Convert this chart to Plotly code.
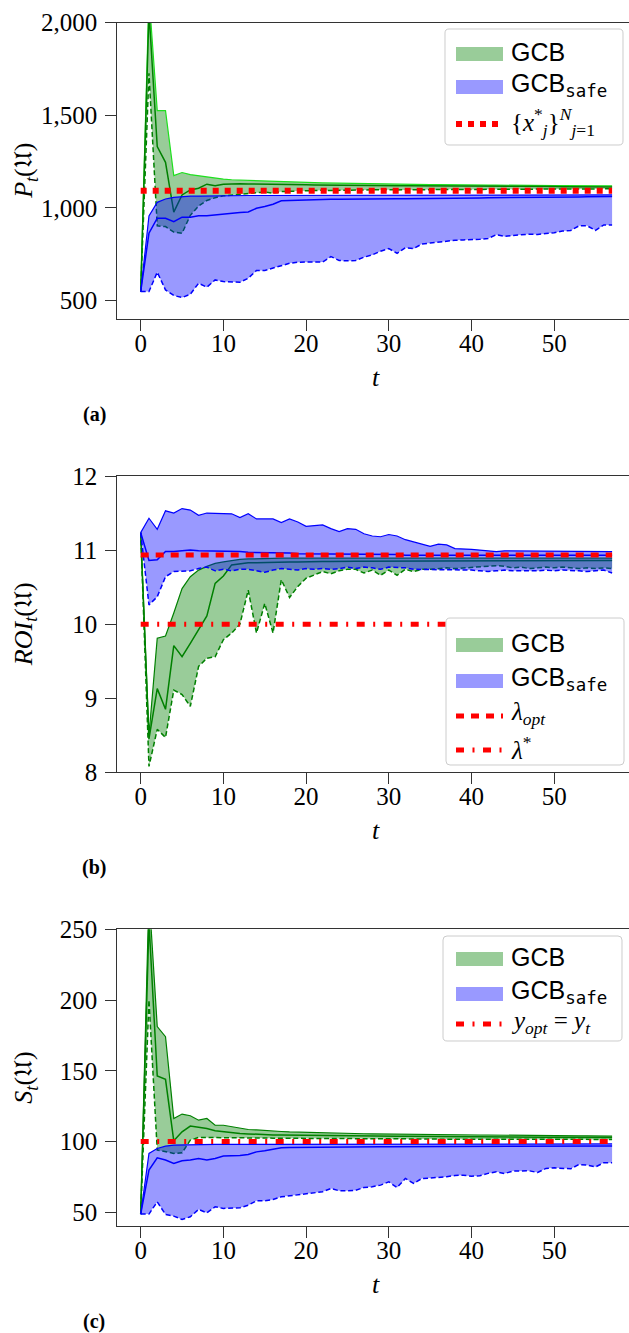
import plotly.graph_objects as go

W, H = 629, 1333

# ---------------- data ----------------
t = list(range(58))

# Panel (a): P_t
a_gcb_mean = [548, 2060, 1331, 1246, 977, 1070, 1097, 1106, 1128, 1120,
              1128, 1130, 1130, 1129, 1129, 1128, 1127, 1126, 1126, 1125,
              1125, 1124, 1124, 1123, 1123, 1122, 1122, 1121, 1121, 1120,
              1120, 1120, 1119, 1119, 1119, 1118, 1118, 1118, 1117, 1117,
              1117, 1117, 1116, 1116, 1116, 1116, 1115, 1115, 1115, 1115,
              1115, 1114, 1114, 1114, 1114, 1114, 1113, 1113]
a_gcb_lower = [548, 1727, 903, 899, 869, 863, 960, 1010, 1040, 1055,
               1065, 1070, 1074, 1078, 1082, 1085, 1080, 1088, 1090, 1092,
               1093, 1094, 1095, 1094, 1096, 1095, 1096, 1097, 1096, 1097,
               1098, 1097, 1098, 1098, 1099, 1098, 1099, 1099, 1100, 1099,
               1100, 1100, 1100, 1101, 1100, 1101, 1101, 1101, 1102, 1101,
               1102, 1102, 1102, 1103, 1102, 1103, 1103, 1103]
a_gcb_upper = [548, 2150, 1525, 1525, 1174, 1191, 1180, 1173, 1166, 1158,
               1155, 1152, 1150, 1148, 1146, 1144, 1142, 1140, 1139, 1138,
               1137, 1136, 1135, 1134, 1134, 1133, 1132, 1132, 1131, 1130,
               1129, 1129, 1128, 1128, 1127, 1126, 1126, 1125, 1125, 1124,
               1124, 1123, 1123, 1123, 1122, 1122, 1122, 1121, 1121, 1121,
               1120, 1120, 1120, 1120, 1119, 1119, 1119, 1119]
a_safe_mean = [548, 863, 944, 944, 926, 950, 950, 957, 957, 962,
               968, 971, 975, 978, 998, 1007, 1020, 1038, 1040, 1041,
               1043, 1044, 1045, 1046, 1046, 1047, 1047, 1048, 1048, 1049,
               1049, 1050, 1050, 1050, 1051, 1051, 1052, 1052, 1053, 1053,
               1054, 1054, 1055, 1055, 1055, 1056, 1056, 1057, 1057, 1057,
               1058, 1058, 1059, 1059, 1060, 1060, 1060, 1061]
a_safe_lower = [548, 548, 653, 557, 527, 516, 534, 593, 572, 611,
                602, 599, 599, 620, 662, 662, 674, 689, 701, 707,
                708, 708, 708, 737, 716, 714, 716, 734, 746, 766,
                780, 755, 785, 780, 805, 810, 815, 822, 825, 827,
                827, 830, 835, 855, 846, 852, 855, 858, 856, 862,
                866, 875, 878, 903, 903, 878, 908, 908]
a_safe_upper = [548, 957, 1030, 1048, 1057, 1061, 1063, 1064, 1065, 1066,
                1066, 1066, 1067, 1067, 1067, 1067, 1068, 1068, 1068, 1068,
                1068, 1068, 1068, 1069, 1069, 1069, 1069, 1069, 1069, 1069,
                1069, 1069, 1069, 1069, 1069, 1070, 1070, 1070, 1070, 1070,
                1070, 1070, 1070, 1070, 1070, 1070, 1070, 1070, 1070, 1070,
                1070, 1070, 1070, 1070, 1070, 1070, 1070, 1070]
a_opt = 1092

# Panel (b): ROI_t
b_gcb_mean = [11.235, 8.45, 9.13, 8.85, 9.71, 9.56, 9.74, 9.93, 10.11, 10.55,
              10.65, 10.80, 10.82, 10.83, 10.83, 10.835, 10.84, 10.84, 10.84, 10.84,
              10.845, 10.845, 10.845, 10.845, 10.85, 10.85, 10.85, 10.85, 10.85, 10.85,
              10.85, 10.85, 10.855, 10.855, 10.855, 10.855, 10.855, 10.855, 10.855, 10.855,
              10.86, 10.86, 10.86, 10.86, 10.86, 10.86, 10.86, 10.86, 10.86, 10.86,
              10.86, 10.86, 10.86, 10.86, 10.86, 10.86, 10.86, 10.86]
b_gcb_lower = [11.235, 8.08, 8.58, 8.47, 9.11, 9.05, 8.89, 9.43, 9.54, 9.56,
               9.79, 9.88, 10.00, 10.46, 9.88, 10.28, 9.88, 10.60, 10.36, 10.51,
               10.62, 10.66, 10.71, 10.68, 10.72, 10.74, 10.74, 10.69, 10.73, 10.66,
               10.73, 10.66, 10.74, 10.71, 10.74, 10.74, 10.75, 10.76, 10.75, 10.76,
               10.77, 10.77, 10.78, 10.79, 10.78, 10.76, 10.77, 10.75, 10.76, 10.77,
               10.76, 10.77, 10.76, 10.75, 10.76, 10.75, 10.76, 10.75]
b_gcb_upper = [11.235, 8.50, 9.81, 9.84, 10.15, 10.48, 10.64, 10.73, 10.78, 10.82,
               10.84, 10.86, 10.875, 10.88, 10.885, 10.89, 10.89, 10.89, 10.89, 10.89,
               10.89, 10.89, 10.89, 10.89, 10.89, 10.89, 10.89, 10.89, 10.89, 10.89,
               10.89, 10.89, 10.89, 10.89, 10.89, 10.89, 10.89, 10.89, 10.89, 10.89,
               10.89, 10.89, 10.89, 10.89, 10.89, 10.89, 10.89, 10.89, 10.89, 10.89,
               10.89, 10.89, 10.89, 10.89, 10.89, 10.89, 10.89, 10.89]
b_safe_mean = [11.235, 10.86, 10.87, 10.98, 10.98, 10.99, 11.00, 10.99, 10.99, 10.98,
               10.98, 10.98, 10.98, 10.97, 10.97, 10.97, 10.96, 10.96, 10.96, 10.95,
               10.95, 10.95, 10.95, 10.94, 10.94, 10.94, 10.94, 10.94, 10.94, 10.94,
               10.94, 10.94, 10.93, 10.93, 10.93, 10.93, 10.93, 10.93, 10.93, 10.93,
               10.93, 10.93, 10.93, 10.93, 10.93, 10.93, 10.93, 10.93, 10.93, 10.93,
               10.93, 10.93, 10.93, 10.93, 10.93, 10.93, 10.93, 10.93]
b_safe_lower = [11.235, 10.26, 10.37, 10.64, 10.71, 10.71, 10.72, 10.75, 10.77, 10.72,
                10.74, 10.72, 10.74, 10.74, 10.72, 10.70, 10.73, 10.75, 10.74, 10.73,
                10.75, 10.74, 10.75, 10.74, 10.75, 10.77, 10.75, 10.77, 10.76, 10.74,
                10.77, 10.77, 10.76, 10.74, 10.74, 10.73, 10.73, 10.74, 10.73, 10.73,
                10.73, 10.72, 10.71, 10.72, 10.73, 10.72, 10.72, 10.71, 10.72, 10.73,
                10.72, 10.73, 10.73, 10.72, 10.71, 10.72, 10.73, 10.69]
b_safe_upper = [11.235, 11.43, 11.28, 11.53, 11.50, 11.56, 11.54, 11.47, 11.50, 11.50,
                11.50, 11.49, 11.44, 11.49, 11.42, 11.42, 11.42, 11.37, 11.42, 11.38,
                11.32, 11.33, 11.34, 11.29, 11.25, 11.29, 11.28, 11.22, 11.19, 11.18,
                11.21, 11.19, 11.14, 11.11, 11.08, 11.05, 11.08, 11.07, 11.02, 11.02,
                11.01, 11.00, 10.99, 10.98, 10.99, 10.99, 10.99, 10.98, 10.98, 10.98,
                10.98, 10.98, 10.98, 10.98, 10.98, 10.98, 10.98, 10.98]
b_opt = 10.935
b_star = 10.0

# Panel (c): S_t
c_gcb_mean = [48.7, 255, 146.3, 144.0, 100.5, 106.9, 110.9, 110.0, 109.2, 107.6,
              106.9, 106.2, 105.7, 105.4, 105.0, 104.8, 104.7, 104.6, 104.5, 104.4,
              104.3, 104.2, 104.2, 104.1, 104.1, 104.0, 104.0, 103.9, 103.9, 103.8,
              103.8, 103.7, 103.7, 103.6, 103.6, 103.6, 103.5, 103.5, 103.5, 103.4,
              103.4, 103.4, 103.3, 103.3, 103.3, 103.2, 103.2, 103.2, 103.1, 103.1,
              103.1, 103.0, 103.0, 103.0, 103.0, 102.9, 102.9, 102.9]
c_gcb_lower = [48.7, 200, 94.0, 92.7, 91.6, 92.0, 101.0, 102.9, 102.9, 102.8,
               102.7, 102.6, 102.6, 102.5, 102.5, 102.4, 102.4, 102.3, 102.3, 102.2,
               102.2, 102.2, 102.1, 102.1, 102.1, 102.0, 102.0, 102.0, 101.9, 101.9,
               101.9, 101.9, 101.8, 101.8, 101.8, 101.8, 101.7, 101.7, 101.7, 101.7,
               101.7, 101.6, 101.6, 101.6, 101.6, 101.6, 101.6, 101.5, 101.5, 101.5,
               101.5, 101.5, 101.5, 101.5, 101.5, 101.5, 101.5, 101.5]
c_gcb_upper = [48.7, 275, 181.2, 174.1, 116.3, 119.4, 118.2, 115.1, 116.3, 111.6,
               111.5, 110.4, 109.2, 108.5, 108.2, 108.0, 107.6, 107.1, 106.8, 106.6,
               106.4, 106.2, 106.0, 105.9, 105.8, 105.7, 105.6, 105.5, 105.4, 105.3,
               105.2, 105.1, 105.1, 105.0, 105.0, 104.9, 104.9, 104.8, 104.8, 104.7,
               104.7, 104.6, 104.6, 104.5, 104.5, 104.4, 104.4, 104.3, 104.3, 104.2,
               104.2, 104.1, 104.1, 104.0, 104.0, 103.9, 103.9, 103.8]
c_safe_mean = [48.7, 79.8, 88.5, 86.9, 84.5, 86.4, 86.9, 88.0, 86.9, 88.0,
               89.7, 89.8, 90.2, 90.9, 92.7, 93.5, 94.4, 95.6, 95.8, 95.9,
               96.0, 96.0, 96.1, 96.1, 96.2, 96.3, 96.3, 96.3, 96.4, 96.4,
               96.4, 96.4, 96.5, 96.5, 96.5, 96.5, 96.5, 96.5, 96.6, 96.6,
               96.6, 96.6, 96.6, 96.6, 96.6, 96.7, 96.7, 96.7, 96.7, 96.7,
               96.7, 96.7, 96.7, 96.8, 96.8, 96.8, 96.8, 96.8]
c_safe_lower = [48.7, 48.7, 57.4, 48.4, 47.3, 44.9, 46.8, 52.0, 49.6, 53.9,
                52.7, 52.7, 53.2, 55.0, 58.1, 58.1, 59.0, 60.9, 61.6, 62.8,
                63.3, 63.7, 64.5, 66.8, 65.2, 65.2, 65.6, 67.5, 68.0, 69.2,
                71.5, 67.5, 73.9, 70.4, 73.9, 74.2, 74.6, 75.1, 76.0, 76.2,
                75.5, 75.8, 77.5, 78.6, 77.4, 79.1, 79.2, 79.3, 78.1, 81.0,
                81.4, 81.2, 80.7, 83.8, 83.3, 82.1, 85.0, 85.0]
c_safe_upper = [48.7, 91.6, 95.1, 96.7, 97.5, 97.7, 97.8, 97.9, 97.9, 98.0,
                98.0, 98.0, 98.0, 98.1, 98.1, 98.1, 98.1, 98.1, 98.1, 98.1,
                98.2, 98.2, 98.2, 98.2, 98.2, 98.2, 98.2, 98.2, 98.2, 98.2,
                98.2, 98.2, 98.2, 98.2, 98.2, 98.3, 98.3, 98.3, 98.3, 98.3,
                98.3, 98.3, 98.3, 98.3, 98.3, 98.3, 98.3, 98.3, 98.3, 98.3,
                98.3, 98.3, 98.3, 98.3, 98.3, 98.3, 98.3, 98.3]
c_opt = 100

x_ticks = [0, 10, 20, 30, 40, 50]
a_ticks = [500, 1000, 1500, 2000]
a_ticklabels = ["500", "1,000", "1,500", "2,000"]
b_ticks = [8, 9, 10, 11, 12]
c_ticks = [50, 100, 150, 200, 250]

for arr in [a_gcb_mean, a_gcb_lower, a_gcb_upper, a_safe_mean, a_safe_lower, a_safe_upper,
            b_gcb_mean, b_gcb_lower, b_gcb_upper, b_safe_mean, b_safe_lower, b_safe_upper,
            c_gcb_mean, c_gcb_lower, c_gcb_upper, c_safe_mean, c_safe_lower, c_safe_upper]:
    assert len(arr) == len(t), len(arr)

# ---------------- styling ----------------
GREEN = "#008000"
LIME = "#1ee01e"
BLUE = "#0000ff"
RED = "#ff0000"
GFILL = "rgba(0,128,0,0.4)"
BFILL = "rgba(0,0,255,0.4)"
SERIF = "Liberation Serif, DejaVu Serif, serif"
SANS = "Liberation Sans, Arial, sans-serif"
AX = "#333333"


def px(x):
    return x / W


def py(y):
    return 1 - y / H


# panel pixel geometry: (top, bottom) of plotting area
panels = {"a": (22.7, 319.0), "b": (476.0, 772.3), "c": (929.3, 1226.0)}
x_left = 117.3

fig = go.Figure()


def add_panel(k, lower, upper, mean, s_lower, s_upper, s_mean, upper_color):
    xa, ya = ("x", "y") if k == 1 else ("x%d" % k, "y%d" % k)
    fig.add_trace(go.Scatter(x=t, y=lower, xaxis=xa, yaxis=ya, mode="lines",
                             line=dict(color=GREEN, width=1.5, dash="5px,2.7px"),
                             showlegend=False, hoverinfo="skip"))
    fig.add_trace(go.Scatter(x=t, y=upper, xaxis=xa, yaxis=ya, mode="lines",
                             fill="tonexty", fillcolor=GFILL,
                             line=dict(color=upper_color, width=1.2),
                             showlegend=False, hoverinfo="skip"))
    fig.add_trace(go.Scatter(x=t, y=mean, xaxis=xa, yaxis=ya, mode="lines",
                             line=dict(color=GREEN, width=1.5),
                             showlegend=False, name="GCB"))
    fig.add_trace(go.Scatter(x=t, y=s_lower, xaxis=xa, yaxis=ya, mode="lines",
                             line=dict(color=BLUE, width=1.5, dash="5px,2.7px"),
                             showlegend=False, hoverinfo="skip"))
    fig.add_trace(go.Scatter(x=t, y=s_upper, xaxis=xa, yaxis=ya, mode="lines",
                             fill="tonexty", fillcolor=BFILL,
                             line=dict(color=BLUE, width=1.2),
                             showlegend=False, hoverinfo="skip"))
    fig.add_trace(go.Scatter(x=t, y=s_mean, xaxis=xa, yaxis=ya, mode="lines",
                             line=dict(color=BLUE, width=1.5),
                             showlegend=False, name="GCB safe"))
    return xa, ya


DOT = "6px,6px"
DASH = "8px,7px"
DASHDOT = "8px,8.5px,2px,8.5px"

xa, ya = add_panel(1, a_gcb_lower, a_gcb_upper, a_gcb_mean, a_safe_lower, a_safe_upper, a_safe_mean, LIME)
fig.add_trace(go.Scatter(x=t, y=[a_opt] * len(t), xaxis=xa, yaxis=ya, mode="lines",
                         line=dict(color=RED, width=6, dash=DOT), showlegend=False))
xa, ya = add_panel(2, b_gcb_lower, b_gcb_upper, b_gcb_mean, b_safe_lower, b_safe_upper, b_safe_mean, GREEN)
fig.add_trace(go.Scatter(x=t, y=[b_opt] * len(t), xaxis=xa, yaxis=ya, mode="lines",
                         line=dict(color=RED, width=5, dash=DASH), showlegend=False))
fig.add_trace(go.Scatter(x=t, y=[b_star] * len(t), xaxis=xa, yaxis=ya, mode="lines",
                         line=dict(color=RED, width=5, dash=DASHDOT), showlegend=False))
xa, ya = add_panel(3, c_gcb_lower, c_gcb_upper, c_gcb_mean, c_safe_lower, c_safe_upper, c_safe_mean, GREEN)
fig.add_trace(go.Scatter(x=t, y=[c_opt] * len(t), xaxis=xa, yaxis=ya, mode="lines",
                         line=dict(color=RED, width=5, dash=DASHDOT), showlegend=False))

plot_w = W - x_left
px_per_unit = 8.27
x_range = [-2.83, -2.83 + plot_w / px_per_unit]

common_x = dict(range=x_range, tickvals=x_ticks, showline=True, mirror=True, linecolor=AX,
                linewidth=1.2, ticks="outside", ticklen=11, tickwidth=1.2, tickcolor=AX,
                showgrid=False, zeroline=False, tickfont=dict(family=SERIF, size=25, color="black"),
                ticklabelstandoff=-9, domain=[px(x_left), 1], automargin=False)
common_y = dict(showline=True, mirror=False, linecolor=AX, linewidth=1.2, ticks="outside",
                ticklen=11, tickwidth=1.2, tickcolor=AX, showgrid=False, zeroline=False,
                tickfont=dict(family=SERIF, size=25, color="black"), ticklabelstandoff=3,
                automargin=False)

layout = dict(width=W, height=H, margin=dict(l=0, r=0, t=0, b=0, pad=0), paper_bgcolor="white",
              plot_bgcolor="white", showlegend=False, template="none")
ranges = {"a": [400, 2000], "b": [8, 12], "c": [40.3, 250]}
yt = {"a": dict(tickvals=a_ticks, ticktext=a_ticklabels), "b": dict(tickvals=b_ticks),
      "c": dict(tickvals=c_ticks)}
for i, k in enumerate(["a", "b", "c"], start=1):
    top, bot = panels[k]
    sx = "xaxis" if i == 1 else "xaxis%d" % i
    sy = "yaxis" if i == 1 else "yaxis%d" % i
    layout[sx] = dict(common_x, anchor="y" if i == 1 else "y%d" % i)
    layout[sy] = dict(common_y, anchor="x" if i == 1 else "x%d" % i, range=ranges[k],
                      domain=[py(bot), py(top)], **yt[k])
fig.update_layout(**layout)

# ---------------- text ----------------
ann = []
ytitles = {"a": "<i>P</i><sub><i>t</i></sub>(𝔘)", "b": "<i>ROI</i><sub><i>t</i></sub>(𝔘)",
           "c": "<i>S</i><sub><i>t</i></sub>(𝔘)"}
x_axis_center = 140.7 + 8.27 * 28.5
for k in ["a", "b", "c"]:
    top, bot = panels[k]
    ann.append(dict(text=ytitles[k], x=px(25), y=py((top + bot) / 2), xref="paper", yref="paper",
                    textangle=-90, showarrow=False, xanchor="center", yanchor="middle",
                    font=dict(family=SERIF, size=26, color="black")))
    ann.append(dict(text="<i>t</i>", x=px(x_axis_center), y=py(bot + 58), xref="paper", yref="paper",
                    showarrow=False, xanchor="center", yanchor="middle",
                    font=dict(family=SERIF, size=26, color="black")))
    ann.append(dict(text="<b>(%s)</b>" % k, x=px(94), y=py(bot + 95), xref="paper", yref="paper",
                    showarrow=False, xanchor="center", yanchor="middle",
                    font=dict(family=SERIF, size=20, color="black")))

# manual legends
SAFE = "GCB<sub><span style=\"font-family:DejaVu Sans Mono\">safe</span></sub>"
legends = {
    "a": dict(box=(445, 29, 623, 145), rows=[("fill", GFILL, "GCB", 52), ("fill", BFILL, SAFE, 85),
                                           ("line", DOT, "{<i>x</i><sup>*</sup><sub><i>j</i></sub>}<sup><i>N</i></sup><sub><i>j</i>=1</sub>", 122)]),
    "b": dict(box=(446, 618, 624, 765), rows=[("fill", GFILL, "GCB", 643), ("fill", BFILL, SAFE, 679),
                                            ("line", DASH, "<i>λ</i><sub><i>opt</i></sub>", 714),
                                            ("line", DASHDOT, "<i>λ</i><sup>*</sup>", 748)]),
    "c": dict(box=(443, 936, 622, 1041), rows=[("fill", GFILL, "GCB", 957), ("fill", BFILL, SAFE, 992),
                                             ("line", DASHDOT, "<i>y</i><sub><i>opt</i></sub> = <i>y</i><sub><i>t</i></sub>", 1022)]),
}
shapes = []


def rounded(x0, y0, x1, y1, r):
    P = lambda a, b: "%f,%f" % (px(a), py(b))
    return ("M" + P(x0 + r, y0) + " L" + P(x1 - r, y0) + " Q" + P(x1, y0) + " " + P(x1, y0 + r) +
            " L" + P(x1, y1 - r) + " Q" + P(x1, y1) + " " + P(x1 - r, y1) +
            " L" + P(x0 + r, y1) + " Q" + P(x0, y1) + " " + P(x0, y1 - r) +
            " L" + P(x0, y0 + r) + " Q" + P(x0, y0) + " " + P(x0 + r, y0) + " Z")


for k, lg in legends.items():
    x0, y0, x1, y1 = lg["box"]
    shapes.append(dict(type="path", path=rounded(x0, y0, x1, y1, 4), xref="paper", yref="paper",
                       fillcolor="white", line=dict(color="#cccccc", width=1), layer="above"))
    for kind, sty, label, yc in lg["rows"]:
        if kind == "fill":
            shapes.append(dict(type="rect", x0=px(456), x1=px(503), y0=py(yc - 7 + 2), y1=py(yc + 7 + 2),
                               xref="paper", yref="paper", fillcolor=sty, line=dict(width=0), layer="above"))
        else:
            shapes.append(dict(type="line", x0=px(456), x1=px(503), y0=py(yc + 2), y1=py(yc + 2),
                               xref="paper", yref="paper", line=dict(color=RED, width=6 if sty == DOT else 5, dash=sty),
                               layer="above"))
        ann.append(dict(text=label, x=px(509), y=py(yc), xref="paper", yref="paper", showarrow=False,
                        xanchor="left", yanchor="middle",
                        font=dict(family=SANS if "GCB" in label else SERIF, size=25, color="black")))

fig.update_layout(annotations=ann, shapes=shapes)
fig.write_html("out.html")
